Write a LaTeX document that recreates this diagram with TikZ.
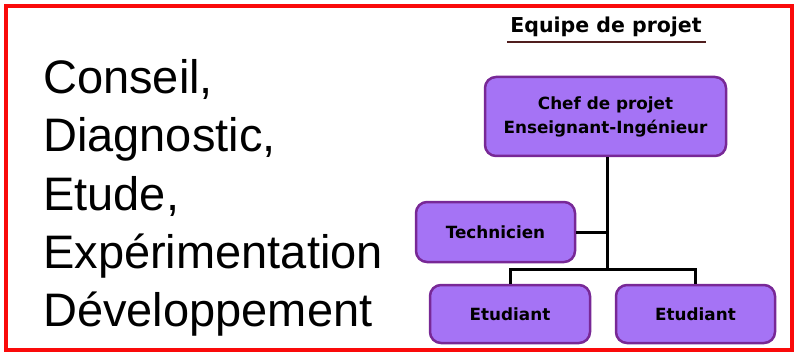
\documentclass[tikz,border=0pt]{standalone}
\usepackage{fontspec}
\setmainfont{Liberation Sans}
\newfontfamily\boxfont{DejaVu Sans}
\definecolor{boxfill}{RGB}{165,115,245}
\definecolor{boxline}{RGB}{120,40,150}
\definecolor{framered}{RGB}{250,10,10}
\definecolor{ulcolor}{RGB}{80,30,30}
\begin{document}
\begin{tikzpicture}[x=1pt,y=-1pt,
  rolebox/.style={draw=boxline, fill=boxfill, line width=2.5pt, rounded corners=11pt, inner sep=0pt, align=center, font=\boxfont\bfseries\fontsize{16.8}{24}\selectfont},
  bigtext/.style={anchor=base west, inner sep=0pt, font=\fontsize{47}{50}\selectfont},
  link/.style={draw=black, line width=3pt}]
\useasboundingbox (0,0) rectangle (799,358);
\draw[framered, line width=4.5pt] (6,6) rectangle (792,350);
\node[bigtext] (l1) at (43,94) {Conseil,};
\node[bigtext] (l2) at (43,152) {Diagnostic,};
\node[bigtext] (l3) at (43,210) {Etude,};
\node[bigtext] (l4) at (43,268) {Expérimentation};
\node[bigtext] (l5) at (43,326) {Développement};
\node[anchor=base, inner sep=0pt, font=\boxfont\bfseries\fontsize{20.5}{24}\selectfont] (title) at (606,33) {Equipe de projet};
\coordinate (ula) at (507,42);
\coordinate (ulb) at (706,42);
\draw[ulcolor, line width=2.2pt] (ula) -- (ulb);
\node[rolebox, minimum width=241pt, minimum height=79pt] (chef) at (605.5,116.5) {Chef de projet\\Enseignant-Ingénieur};
\node[rolebox, minimum width=159pt, minimum height=60pt] (tech) at (495.5,232) {Technicien};
\node[rolebox, minimum width=160pt, minimum height=58pt] (et1) at (510,314) {Etudiant};
\node[rolebox, minimum width=159pt, minimum height=58pt] (et2) at (695.5,314) {Etudiant};
\coordinate (jt) at (607,232);
\coordinate (jb) at (607,269);
\draw[link] (chef.south -| jb) -- (jb);
\draw[link] (tech.east) -- (jt);
\draw[link] (et1.north) |- (jb) -| (et2.north);
\end{tikzpicture}
\end{document}
